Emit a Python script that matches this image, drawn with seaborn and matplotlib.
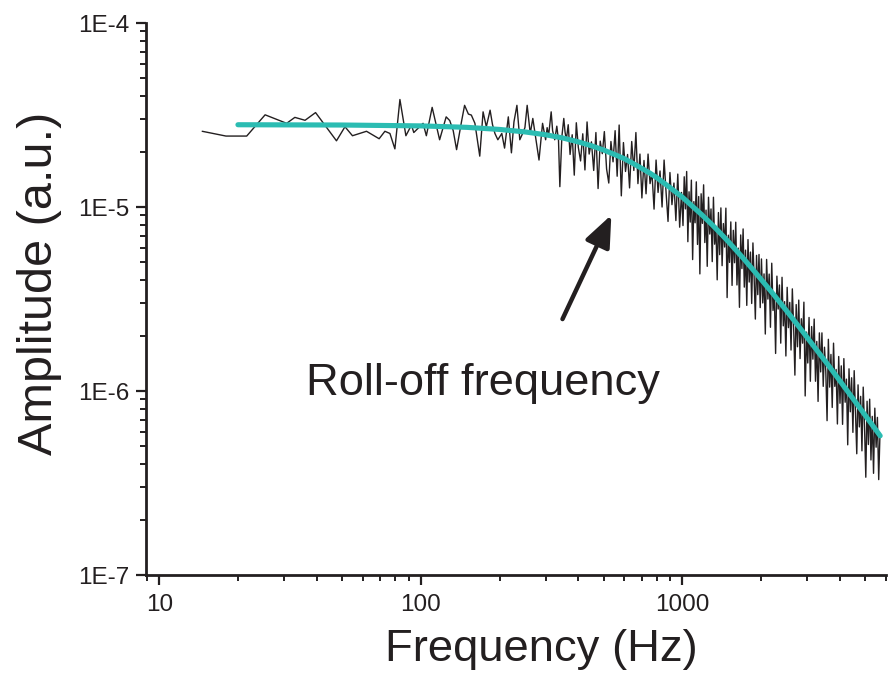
import numpy as np
import matplotlib
matplotlib.use("Agg")
import matplotlib.pyplot as plt
import seaborn as sns
from matplotlib.ticker import FixedLocator, FixedFormatter, LogLocator, NullFormatter

# --- data (amplitudes in units of 1e-6 a.u.) ---
# measured spectrum, split in frequency bands
noise_freq_low = [14.6, 18.0, 21.6, 25.4, 30.7, 33.0, 36.1, 39.6, 47.6, 51.3, 54.8, 62.0,
                  69.3, 72.9, 76.2, 79.6, 83.2, 87.7, 92.1, 94.0, 102, 105, 110.5, 113.8]
noise_amp_low = [25.8, 24.3, 24.3, 31.7, 28.5, 30.7, 29.6, 32.6, 22.9, 27.3, 24.4, 25.8,
                 23.5, 25.8, 25.1, 20.7, 38.4, 24.4, 27.9, 25.4, 28.5, 24.4, 34.8, 29.0]

noise_freq_mid = [118, 125, 129, 133, 137, 143, 147, 152, 156, 161, 168, 173, 178, 184, 188,
                  192, 197, 204, 209, 216, 222, 227, 233, 239, 245, 250, 255, 262, 268, 277,
                  283, 292, 300, 304, 308, 315, 319, 325, 331, 336, 340, 346, 352, 356, 360]
noise_amp_mid = [23.2, 30.9, 29.5, 26.0, 20.5, 29.0, 35.7, 32.0, 31.6, 28.5, 18.9, 32.9, 27.3, 33.6, 28.0,
                 25.1, 23.2, 25.1, 20.9, 30.9, 19.7, 29.0, 35.7, 23.2, 25.1, 27.0, 35.7, 25.1, 30.3, 22.2,
                 18.0, 28.5, 23.2, 27.0, 24.5, 32.9, 26.0, 23.2, 27.5, 23.0, 12.9, 24.0, 30.3, 25.5, 23.2]

noise_freq_knee = [366, 372, 379, 386, 393, 400, 408, 416, 424, 432, 440, 449, 458, 467, 476,
                   485, 494, 503, 513, 523, 533, 543, 553, 563, 573, 584, 595, 606, 617, 628,
                   640, 652, 664, 676, 688, 700, 713, 726, 739, 752, 765, 779, 793, 807, 821,
                   836, 851, 866, 881, 896, 912, 928, 944, 960, 976, 992]
noise_amp_knee = [28.0, 19.3, 24.7, 14.9, 28.7, 21.1, 17.8, 25.0, 15.9, 29.0, 19.4, 22.6, 15.8, 25.4, 12.6,
                  22.8, 19.5, 25.7, 16.1, 13.5, 22.7, 17.6, 26.0, 14.7, 27.9, 11.5, 22.4, 15.6, 19.3, 12.7,
                  22.7, 15.8, 25.4, 13.4, 19.4, 11.2, 17.9, 11.8, 19.4, 13.4, 15.3, 9.74, 18.0, 12.0, 15.7,
                  10.0, 18.0, 12.0, 8.35, 15.4, 10.3, 13.5, 8.44, 15.1, 7.77, 12.0]

noise_freq_roll = [1005, 1016, 1027, 1038, 1049, 1060, 1071, 1082, 1094, 1106, 1118, 1130, 1142,
                   1154, 1166, 1179, 1192, 1205, 1218, 1231, 1244, 1258, 1272, 1286, 1300, 1314,
                   1328, 1343, 1358, 1373, 1388, 1403, 1418, 1434, 1450, 1466, 1482, 1498, 1514,
                   1531, 1548, 1565, 1582, 1599, 1616, 1634, 1652, 1670, 1688, 1706, 1724, 1743,
                   1762, 1781, 1800, 1820, 1840, 1860, 1880, 1900, 1920, 1941, 1962, 1983]
noise_amp_roll = [7.93, 14.6, 9.77, 15.6, 6.48, 12.1, 8.28, 14.0, 5.18, 10.7, 8.21, 13.7, 6.26,
                  11.4, 4.33, 11.8, 8.15, 13.2, 6.41, 9.62, 4.76, 11.3, 7.13, 9.76, 5.05, 11.3,
                  6.28, 7.85, 4.02, 9.33, 5.51, 9.89, 4.80, 8.13, 6.06, 9.86, 3.22, 7.03, 5.00,
                  8.30, 3.75, 7.47, 4.98, 8.27, 3.77, 5.98, 2.85, 7.05, 4.63, 7.60, 3.67, 5.83,
                  2.92, 6.65, 3.91, 5.69, 2.99, 6.38, 4.12, 2.46, 5.46, 3.34, 5.52, 2.84]

noise_freq_high = [2005, 2028, 2051, 2074, 2098, 2122, 2146, 2170, 2195, 2220,
                   2245, 2271, 2297, 2323, 2349, 2376, 2403, 2430, 2458, 2486,
                   2514, 2543, 2572, 2601, 2631, 2661, 2691, 2722, 2753, 2784,
                   2816, 2848, 2880, 2913, 2946, 2980, 3014, 3048, 3083, 3118,
                   3153, 3189, 3226, 3263, 3300, 3338, 3376, 3414, 3453, 3492,
                   3532, 3572, 3613, 3654, 3696, 3738, 3781, 3824, 3868, 3912,
                   3957, 4002, 4048, 4094, 4141, 4188, 4236, 4284, 4333, 4383,
                   4433, 4484, 4535, 4587, 4639, 4692, 4746, 4800, 4855, 4910,
                   4966, 5023, 5080, 5138, 5197, 5256, 5316, 5377, 5438, 5500,
                   5563, 5627, 5691]
noise_amp_high = [5.22, 3.01, 4.33, 2.04, 5.19, 3.16, 4.32, 2.22, 4.95, 2.74,
                  3.42, 1.60, 4.21, 2.79, 3.77, 1.82, 4.15, 2.26, 3.06, 1.55,
                  3.66, 2.21, 3.03, 1.67, 3.59, 2.24, 1.22, 2.95, 1.74, 3.12,
                  1.50, 2.47, 1.82, 3.04, 0.94, 2.09, 1.42, 2.51, 1.13, 2.24,
                  1.49, 2.46, 1.13, 1.86, 0.878, 2.07, 1.27, 2.07, 1.06, 1.73,
                  1.28, 0.69, 1.91, 1.05, 1.58, 0.814, 1.82, 1.06, 1.31, 0.662,
                  1.54, 0.858, 1.37, 0.659, 1.50, 0.869, 1.16, 0.51, 1.32, 0.771,
                  1.18, 0.596, 1.29, 0.775, 0.456, 1.08, 0.638, 0.935, 0.473, 1.05,
                  0.644, 0.34, 0.88, 0.512, 0.903, 0.422, 0.728, 0.357, 0.807, 0.495,
                  0.719, 0.33, 0.589]

# fitted curve
fit_freq = [20, 50, 100, 150, 200, 250, 300, 350, 400, 450, 500, 550, 600, 650, 700, 750,
            800, 900, 1000, 1100, 1200, 1300, 1400, 1500, 1700, 1900, 2200, 2500, 2800,
            3200, 3600, 4000, 4500, 5000, 5700]
fit_amp = [28.0, 27.9, 27.6, 27.1, 26.4, 25.6, 24.7, 23.7, 22.6, 21.5, 20.4, 19.3, 18.3, 17.2,
           16.2, 15.3, 14.4, 12.7, 11.3, 10.0, 8.94, 8.00, 7.18, 6.47, 5.31, 4.41, 3.43, 2.73,
           2.22, 1.73, 1.39, 1.135, 0.904, 0.737, 0.571]

x_ticks = [10, 100, 1000]
x_tick_labels = ["10", "100", "1000"]
y_ticks = [1e-7, 1e-6, 1e-5, 1e-4]
y_tick_labels = ["1E-7", "1E-6", "1E-5", "1E-4"]

annot_text = "Roll-off frequency"
annot_text_pos = (173, 9.5e-7)
arrow_tail = (348, 2.46e-6)
arrow_tip = (535, 9.05e-6)

INK = "#231f20"
TEAL = "#2bbcb2"

sns.set_style("ticks")
plt.rcParams["font.family"] = ["Liberation Sans", "DejaVu Sans"]

UNIT = 1e-6
noise_freq = np.concatenate([noise_freq_low, noise_freq_mid, noise_freq_knee,
                             noise_freq_roll, noise_freq_high])
noise_amp = np.concatenate([noise_amp_low, noise_amp_mid, noise_amp_knee,
                            noise_amp_roll, noise_amp_high]) * UNIT

fig = plt.figure(figsize=(8.9, 6.73), dpi=100)
ax = fig.add_axes([0.164, 0.1456, 0.8315, 0.8202])
ax.set_xscale("log")
ax.set_yscale("log")

sns.lineplot(x=noise_freq, y=noise_amp, ax=ax, color=INK, lw=1.0,
             estimator=None, sort=False)
sns.lineplot(x=np.array(fit_freq), y=np.array(fit_amp) * UNIT, ax=ax, color=TEAL,
             lw=3.7, estimator=None, sort=False)

ax.set_xlim(8.9, 6000)
ax.set_ylim(1e-7, 1e-4)

ax.xaxis.set_major_locator(FixedLocator(x_ticks))
ax.xaxis.set_major_formatter(FixedFormatter(x_tick_labels))
ax.xaxis.set_minor_locator(LogLocator(base=10, subs=np.arange(2, 10), numticks=20))
ax.xaxis.set_minor_formatter(NullFormatter())
ax.yaxis.set_major_locator(FixedLocator(y_ticks))
ax.yaxis.set_major_formatter(FixedFormatter(y_tick_labels))
ax.yaxis.set_minor_locator(LogLocator(base=10, subs=np.arange(2, 10), numticks=20))
ax.yaxis.set_minor_formatter(NullFormatter())

ax.tick_params(which="major", direction="out", length=7, width=1.6,
               labelsize=17.5, colors=INK, pad=5)
ax.tick_params(which="minor", direction="out", length=4, width=1.4, colors=INK)
ax.tick_params(axis="x", which="major", pad=7)
sns.despine(ax=ax)
for side in ["left", "bottom"]:
    ax.spines[side].set_linewidth(2.0)
    ax.spines[side].set_color(INK)

ax.set_xlabel("Frequency (Hz)", fontsize=32.7, color=INK)
ax.xaxis.set_label_coords(0.534, -0.097)
ax.set_ylabel("Amplitude (a.u.)", fontsize=35, color=INK)
ax.yaxis.set_label_coords(-0.114, 0.528)

ax.annotate("", xy=arrow_tip, xytext=arrow_tail,
            arrowprops=dict(arrowstyle="-|>,head_length=0.8,head_width=0.33",
                            mutation_scale=24, lw=3.2, color=INK,
                            shrinkA=0, shrinkB=0))
ax.text(*annot_text_pos, annot_text, ha="center", va="baseline",
        fontsize=32.6, color=INK)

fig.savefig("out.png", dpi=100)
